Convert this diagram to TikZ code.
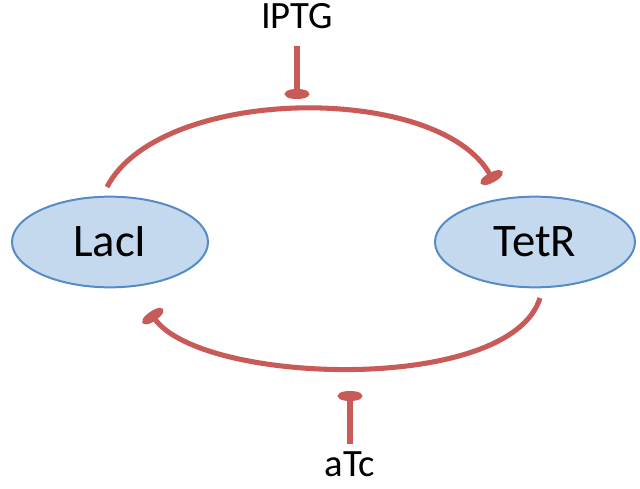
\documentclass[tikz,border=0pt]{standalone}
\usepackage{fontspec}
\setmainfont{Carlito}
\usetikzlibrary{shapes.geometric,arrows.meta}
\definecolor{inh}{RGB}{200,90,88}
\definecolor{nfill}{RGB}{197,217,238}
\definecolor{nline}{RGB}{85,140,200}
\begin{document}
\begin{tikzpicture}[x=0.75pt,y=-0.75pt,
  prot/.style={ellipse,draw=nline,line width=1.5pt,fill=nfill,minimum width=147pt,minimum height=68pt,font=\fontsize{35}{40}\selectfont},
  rep/.style={draw=inh,line width=3.8pt,-{Ellipse[length=7.5pt,width=18pt]}},
  lbl/.style={font=\fontsize{29}{32}\selectfont}]
\useasboundingbox (0,0) rectangle (640,489);
\node[prot] (lac) at (110,242) {LacI};
\node[prot,minimum width=150pt] (tet) at (535,242) {TetR};
\node[lbl] (iptg) at (297,16) {IPTG};
\node[lbl] (atc) at (350,464) {aTc};
\coordinate (t1) at (107,187);
\coordinate (t2) at (494,182);
\coordinate (b1) at (540,298);
\coordinate (b2) at (150,312);
\coordinate (ti) at (297,99);
\coordinate (bi) at (350,391);
\draw[rep] (t1) .. controls (160,85) and (440,82) .. (t2);
\draw[rep] (b1) .. controls (510,395) and (200,385) .. (b2);
\draw[rep] (297,46) -- (ti);
\draw[rep] (350,444) -- (bi);
\end{tikzpicture}
\end{document}
